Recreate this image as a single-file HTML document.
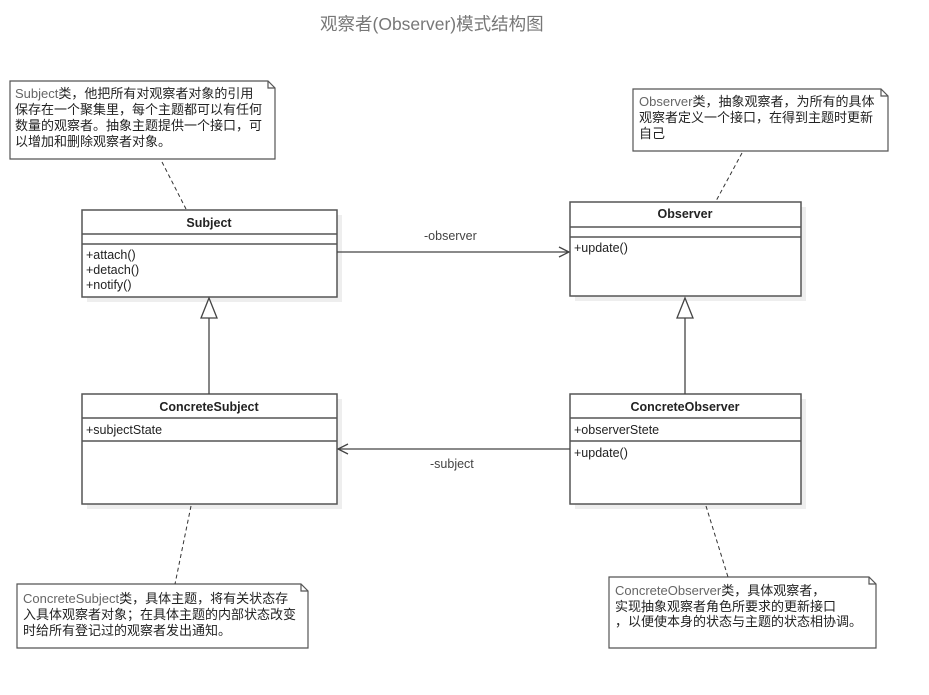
<!DOCTYPE html>
<html><head><meta charset="utf-8"><style>
html,body{margin:0;padding:0;background:#fff;}
svg text{font-family:"Liberation Sans","Noto Sans CJK SC",sans-serif;font-size:12.5px;fill:#222;}
.n{font-size:13px;}
</style></head><body>
<svg width="929" height="690" viewBox="0 0 929 690" xmlns="http://www.w3.org/2000/svg">
<text x="320" y="30" style="font-size:17.5px;fill:#777">观察者(Observer)模式结构图</text>

<g fill="#eee">
<rect x="87" y="215" width="255" height="87"/>
<rect x="575" y="207" width="231" height="94"/>
<rect x="87" y="399" width="255" height="110"/>
<rect x="575" y="399" width="231" height="110"/>
</g>

<g stroke="#555" stroke-width="1.5" fill="#fff">
<rect x="82" y="210" width="255" height="87"/>
<line x1="82" y1="234" x2="337" y2="234"/><line x1="82" y1="244" x2="337" y2="244"/>
<rect x="570" y="202" width="231" height="94"/>
<line x1="570" y1="227" x2="801" y2="227"/><line x1="570" y1="237" x2="801" y2="237"/>
<rect x="82" y="394" width="255" height="110"/>
<line x1="82" y1="418" x2="337" y2="418"/><line x1="82" y1="441" x2="337" y2="441"/>
<rect x="570" y="394" width="231" height="110"/>
<line x1="570" y1="418" x2="801" y2="418"/><line x1="570" y1="441" x2="801" y2="441"/>
</g>

<g stroke="#555" stroke-width="1.2" fill="#fff">
<path d="M10 81 H268 L275 88 V159 H10 Z"/><path d="M268 81 V88 H275" fill="none"/>
<path d="M633 89 H881 L888 96 V151 H633 Z"/><path d="M881 89 V96 H888" fill="none"/>
<path d="M17 584 H301 L308 591 V648 H17 Z"/><path d="M301 584 V591 H308" fill="none"/>
<path d="M609 577 H869 L876 584 V648 H609 Z"/><path d="M869 577 V584 H876" fill="none"/>
</g>

<g stroke="#333" stroke-width="1" stroke-dasharray="4,3">
<line x1="162" y1="162" x2="186" y2="209"/>
<line x1="742" y1="153" x2="716" y2="201"/>
<line x1="191" y1="506" x2="175" y2="584"/>
<line x1="706" y1="506" x2="728" y2="577"/>
</g>

<g stroke="#444" stroke-width="1.3" fill="none">
<line x1="337" y1="252" x2="569" y2="252"/>
<polyline points="559,247 569,252 559,257"/>
<line x1="570" y1="449" x2="338" y2="449"/>
<polyline points="348,444 338,449 348,454"/>
<line x1="209" y1="318" x2="209" y2="394"/>
<polygon points="209,298 201,318 217,318" fill="#fff"/>
<line x1="685" y1="318" x2="685" y2="394"/>
<polygon points="685,298 677,318 693,318" fill="#fff"/>
</g>
<text x="424" y="240" style="fill:#444">-observer</text>
<text x="430" y="468" style="fill:#444">-subject</text>

<text x="209" y="227" text-anchor="middle" style="font-weight:bold">Subject</text>
<text x="685" y="218" text-anchor="middle" style="font-weight:bold">Observer</text>
<text x="209" y="411" text-anchor="middle" style="font-weight:bold">ConcreteSubject</text>
<text x="685" y="411" text-anchor="middle" style="font-weight:bold">ConcreteObserver</text>
<text x="86" y="259">+attach()</text>
<text x="86" y="274">+detach()</text>
<text x="86" y="289">+notify()</text>
<text x="574" y="252">+update()</text>
<text x="86" y="434">+subjectState</text>
<text x="574" y="434">+observerStete</text>
<text x="574" y="457">+update()</text>

<text class="n" x="15" y="98"><tspan style="fill:#666">Subject</tspan>类，他把所有对观察者对象的引用</text>
<text class="n" x="15" y="114">保存在一个聚集里，每个主题都可以有任何</text>
<text class="n" x="15" y="130">数量的观察者。抽象主题提供一个接口，可</text>
<text class="n" x="15" y="146">以增加和删除观察者对象。</text>

<text class="n" x="639" y="106"><tspan style="fill:#666">Observer</tspan>类，抽象观察者，为所有的具体</text>
<text class="n" x="639" y="122">观察者定义一个接口，在得到主题时更新</text>
<text class="n" x="639" y="138">自己</text>

<text class="n" x="23" y="603"><tspan style="fill:#666">ConcreteSubject</tspan>类，具体主题，将有关状态存</text>
<text class="n" x="23" y="619">入具体观察者对象；在具体主题的内部状态改变</text>
<text class="n" x="23" y="635">时给所有登记过的观察者发出通知。</text>

<text class="n" x="615" y="595"><tspan style="fill:#666">ConcreteObserver</tspan>类，具体观察者，</text>
<text class="n" x="615" y="611">实现抽象观察者角色所要求的更新接口</text>
<text class="n" x="615" y="626">，以便使本身的状态与主题的状态相协调。</text>
</svg>
</body></html>
